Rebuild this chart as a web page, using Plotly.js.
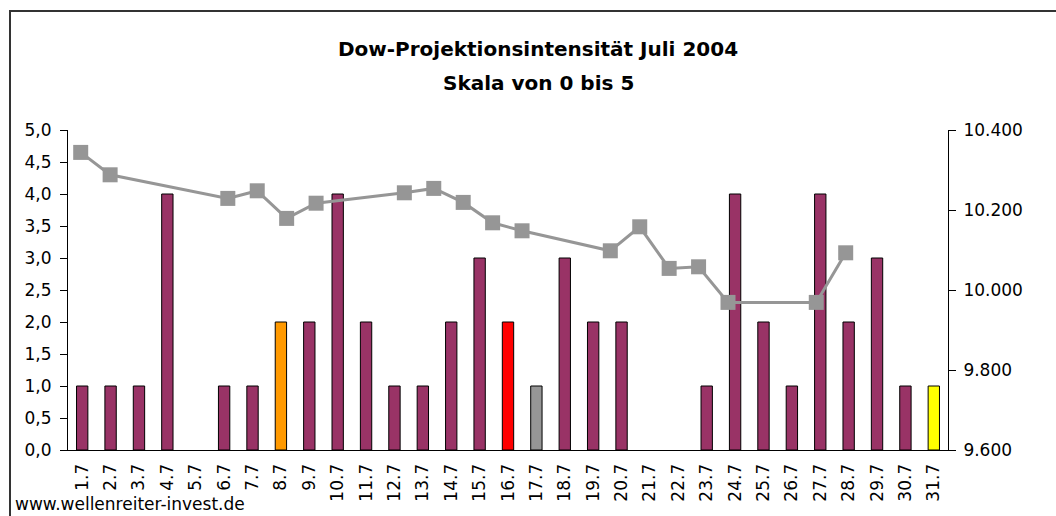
<!DOCTYPE html>
<html>
<head>
<meta charset="utf-8">
<script src="https://cdn.plot.ly/plotly-3.0.1.min.js"></script>
<style>
  html, body { margin: 0; padding: 0; background: #ffffff; }
  #chart { width: 1056px; height: 516px; }
</style>
</head>
<body>
<div id="chart"></div>
<script>
// ---- data ----
const days = ["1.7","2.7","3.7","4.7","5.7","6.7","7.7","8.7","9.7","10.7","11.7","12.7","13.7","14.7","15.7","16.7","17.7","18.7","19.7","20.7","21.7","22.7","23.7","24.7","25.7","26.7","27.7","28.7","29.7","30.7","31.7"];
const intensity = [1,1,1,4,0,1,1,2,2,4,2,1,1,2,3,2,1,3,2,2,0,0,1,4,2,1,4,2,3,1,1];
const barColors = ["#993366","#993366","#993366","#993366","#993366","#993366","#993366","#FF9900","#993366","#993366","#993366","#993366","#993366","#993366","#993366","#FF0000","#969696","#993366","#993366","#993366","#993366","#993366","#993366","#993366","#993366","#993366","#993366","#993366","#993366","#993366","#FFFF00"];
const tradingDays = [1,2,6,7,8,9,12,13,14,15,16,19,20,21,22,23,26,27];
const dowClose = [10344,10288,10229,10248,10179,10217,10243,10254,10219,10168,10148,10098,10158,10054,10058,9969,9969,10093];
const titleLine1 = "Dow-Projektionsintensität Juli 2004";
const titleLine2 = "Skala von 0 bis 5";
const footer = "www.wellenreiter-invest.de";

const FONT = "DejaVu Sans, Liberation Sans, Arial, sans-serif";

const bars = {
  type: "bar",
  x: days,
  y: intensity,
  xaxis: "x",
  yaxis: "y",
  width: 0.4,
  marker: {
    color: barColors,
    line: { color: "#000000", width: intensity.map(v => (v > 0 ? 1 : 0)) }
  },
  hoverinfo: "x+y",
  showlegend: false
};

const line = {
  type: "scatter",
  mode: "lines+markers",
  x: tradingDays,
  y: dowClose,
  xaxis: "x2",
  yaxis: "y2",
  line: { color: "#969696", width: 3 },
  marker: { symbol: "square", size: 15, color: "#969696" },
  showlegend: false
};

const layout = {
  width: 1056,
  height: 516,
  margin: { l: 68, r: 108, t: 130, b: 66, pad: 0 },
  paper_bgcolor: "#ffffff",
  plot_bgcolor: "#ffffff",
  separators: ",.",
  font: { family: FONT, size: 17, color: "#000000" },
  title: {
    text: "<b>" + titleLine1 + "</b>",
    font: { family: FONT, size: 20, color: "#000000" },
    x: 538 / 1056, xanchor: "center",
    y: 1 - 49 / 516, yanchor: "middle",
    xref: "container", yref: "container"
  },
  xaxis: {
    type: "category",
    range: [-0.5, 30.5],
    showline: true, linecolor: "#000000", linewidth: 1,
    showgrid: false, zeroline: false,
    ticks: "", tickangle: -90,
    ticklabelstandoff: 6,
    tickfont: { family: FONT, size: 17, color: "#000000" },
    fixedrange: true
  },
  xaxis2: {
    overlaying: "x",
    type: "linear",
    range: [0.5684, 30.477],
    visible: false,
    fixedrange: true
  },
  yaxis: {
    range: [0, 5],
    dtick: 0.5,
    tickformat: ".1f",
    showline: true, linecolor: "#000000", linewidth: 1,
    showgrid: false, zeroline: false,
    ticks: "outside", ticklen: 7, tickcolor: "#000000",
    ticklabelstandoff: 5,
    tickfont: { family: FONT, size: 17, color: "#000000" },
    fixedrange: true
  },
  yaxis2: {
    overlaying: "y",
    side: "right",
    range: [9600, 10400],
    dtick: 200,
    tickformat: ",d",
    showline: true, linecolor: "#000000", linewidth: 1,
    showgrid: false, zeroline: false,
    ticks: "outside", ticklen: 7, tickcolor: "#000000",
    ticklabelstandoff: 4,
    tickfont: { family: FONT, size: 17, color: "#000000" },
    fixedrange: true
  },
  annotations: [
    {
      text: "<b>" + titleLine2 + "</b>",
      xref: "paper", yref: "paper",
      x: (538 - 68) / 880, y: (450 - 83) / 320,
      xanchor: "center", yanchor: "middle",
      showarrow: false,
      font: { family: FONT, size: 20, color: "#000000" }
    },
    {
      text: footer,
      xref: "paper", yref: "paper",
      x: (13 - 68) / 880, y: (450 - 504) / 320,
      xanchor: "left", yanchor: "middle",
      showarrow: false,
      font: { family: FONT, size: 17, color: "#000000" }
    }
  ],
  shapes: [
    {
      type: "rect", xref: "paper", yref: "paper",
      x0: (10 - 68) / 880, x1: (1070 - 68) / 880,
      y0: (450 - 530) / 320, y1: (450 - 11) / 320,
      line: { color: "#333333", width: 2 },
      fillcolor: "rgba(0,0,0,0)",
      layer: "above"
    }
  ]
};

Plotly.newPlot("chart", [bars, line], layout, { displayModeBar: false, staticPlot: true });
</script>
</body>
</html>
